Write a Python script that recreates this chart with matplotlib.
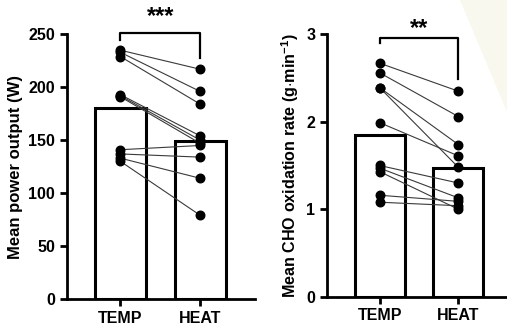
import matplotlib
matplotlib.use("Agg")
from matplotlib import pyplot as plt
from matplotlib.patches import Polygon

plt.rcParams['font.family'] = ['Liberation Sans', 'DejaVu Sans']
plt.rcParams['font.weight'] = 'bold'
plt.rcParams['mathtext.fontset'] = 'custom'
plt.rcParams['mathtext.rm'] = 'Liberation Sans:bold'
plt.rcParams['mathtext.bf'] = 'Liberation Sans:bold'

groups = ['TEMP', 'HEAT']

# paired values per participant
temp_power = [235, 233, 229, 193, 192, 191, 141, 137, 133, 130]
heat_power = [217, 196, 184, 154, 150, 147, 145, 134, 114, 79]
power_means = [180, 149]

temp_cho = [2.67, 2.56, 2.39, 2.39, 1.99, 1.50, 1.47, 1.43, 1.16, 1.08]
heat_cho = [2.35, 2.06, 1.74, 1.48, 1.61, 1.30, 1.13, 1.00, 1.09, 1.04]
cho_means = [1.85, 1.47]

power_ticks = [0, 50, 100, 150, 200, 250]
cho_ticks = [0, 1, 2, 3]

fig = plt.figure(figsize=(5.07, 3.30), dpi=100)
fig.patches.append(Polygon([(0.907, 1.0), (1.0, 1.0), (1.0, 0.66)], closed=True,
                           transform=fig.transFigure, facecolor='#f9f8ef',
                           edgecolor='none', zorder=0))


def paired_panel(ax, before, after, means, ticks, ylabel, label_size, stars, xmax, bracket):
    x = [0, 1]
    ax.bar(x, means, width=0.64, color='white', edgecolor='black', linewidth=2.2, zorder=1)
    for b, a in zip(before, after):
        ax.plot(x, [b, a], color='#3a3a3a', linewidth=0.8, zorder=2)
    ax.scatter([0] * len(before), before, s=38, color='black', zorder=3, clip_on=False)
    ax.scatter([1] * len(after), after, s=38, color='black', zorder=3, clip_on=False)

    top, left_end, right_end, star_y = bracket
    ax.plot([0, 0, 1, 1], [left_end, top, top, right_end], color='black',
            linewidth=1.6, clip_on=False)
    ax.text(0.5, star_y, stars, ha='center', va='center', fontsize=17,
            fontweight='bold')

    ax.set_xlim(-0.67, xmax)
    ax.set_ylim(0, ticks[-1])
    ax.set_yticks(ticks)
    ax.set_xticks(x)
    ax.set_xticklabels(groups, fontsize=11.5)
    ax.set_ylabel(ylabel, fontsize=label_size, fontweight='bold', labelpad=4)
    for side in ['top', 'right']:
        ax.spines[side].set_visible(False)
    for side in ['left', 'bottom']:
        ax.spines[side].set_linewidth(2.0)
    ax.tick_params(axis='both', width=2.0, length=5)
    ax.tick_params(axis='y', labelsize=11.5)
    ax.patch.set_alpha(0)


ax1 = fig.add_axes([0.132, 0.094, 0.37, 0.802])
paired_panel(ax1, temp_power, heat_power, power_means, power_ticks,
             'Mean power output (W)', 12, '***', 1.68, (251, 245, 228, 267))

ax2 = fig.add_axes([0.645, 0.101, 0.355, 0.795])
paired_panel(ax2, temp_cho, heat_cho, cho_means, cho_ticks,
             r'Mean CHO oxidation rate (g$\cdot$min$^{\mathbf{-1}}$)', 11.6, '**', 1.62,
             (2.96, 2.90, 2.49, 3.07))

plt.savefig('out.png', dpi=100)
